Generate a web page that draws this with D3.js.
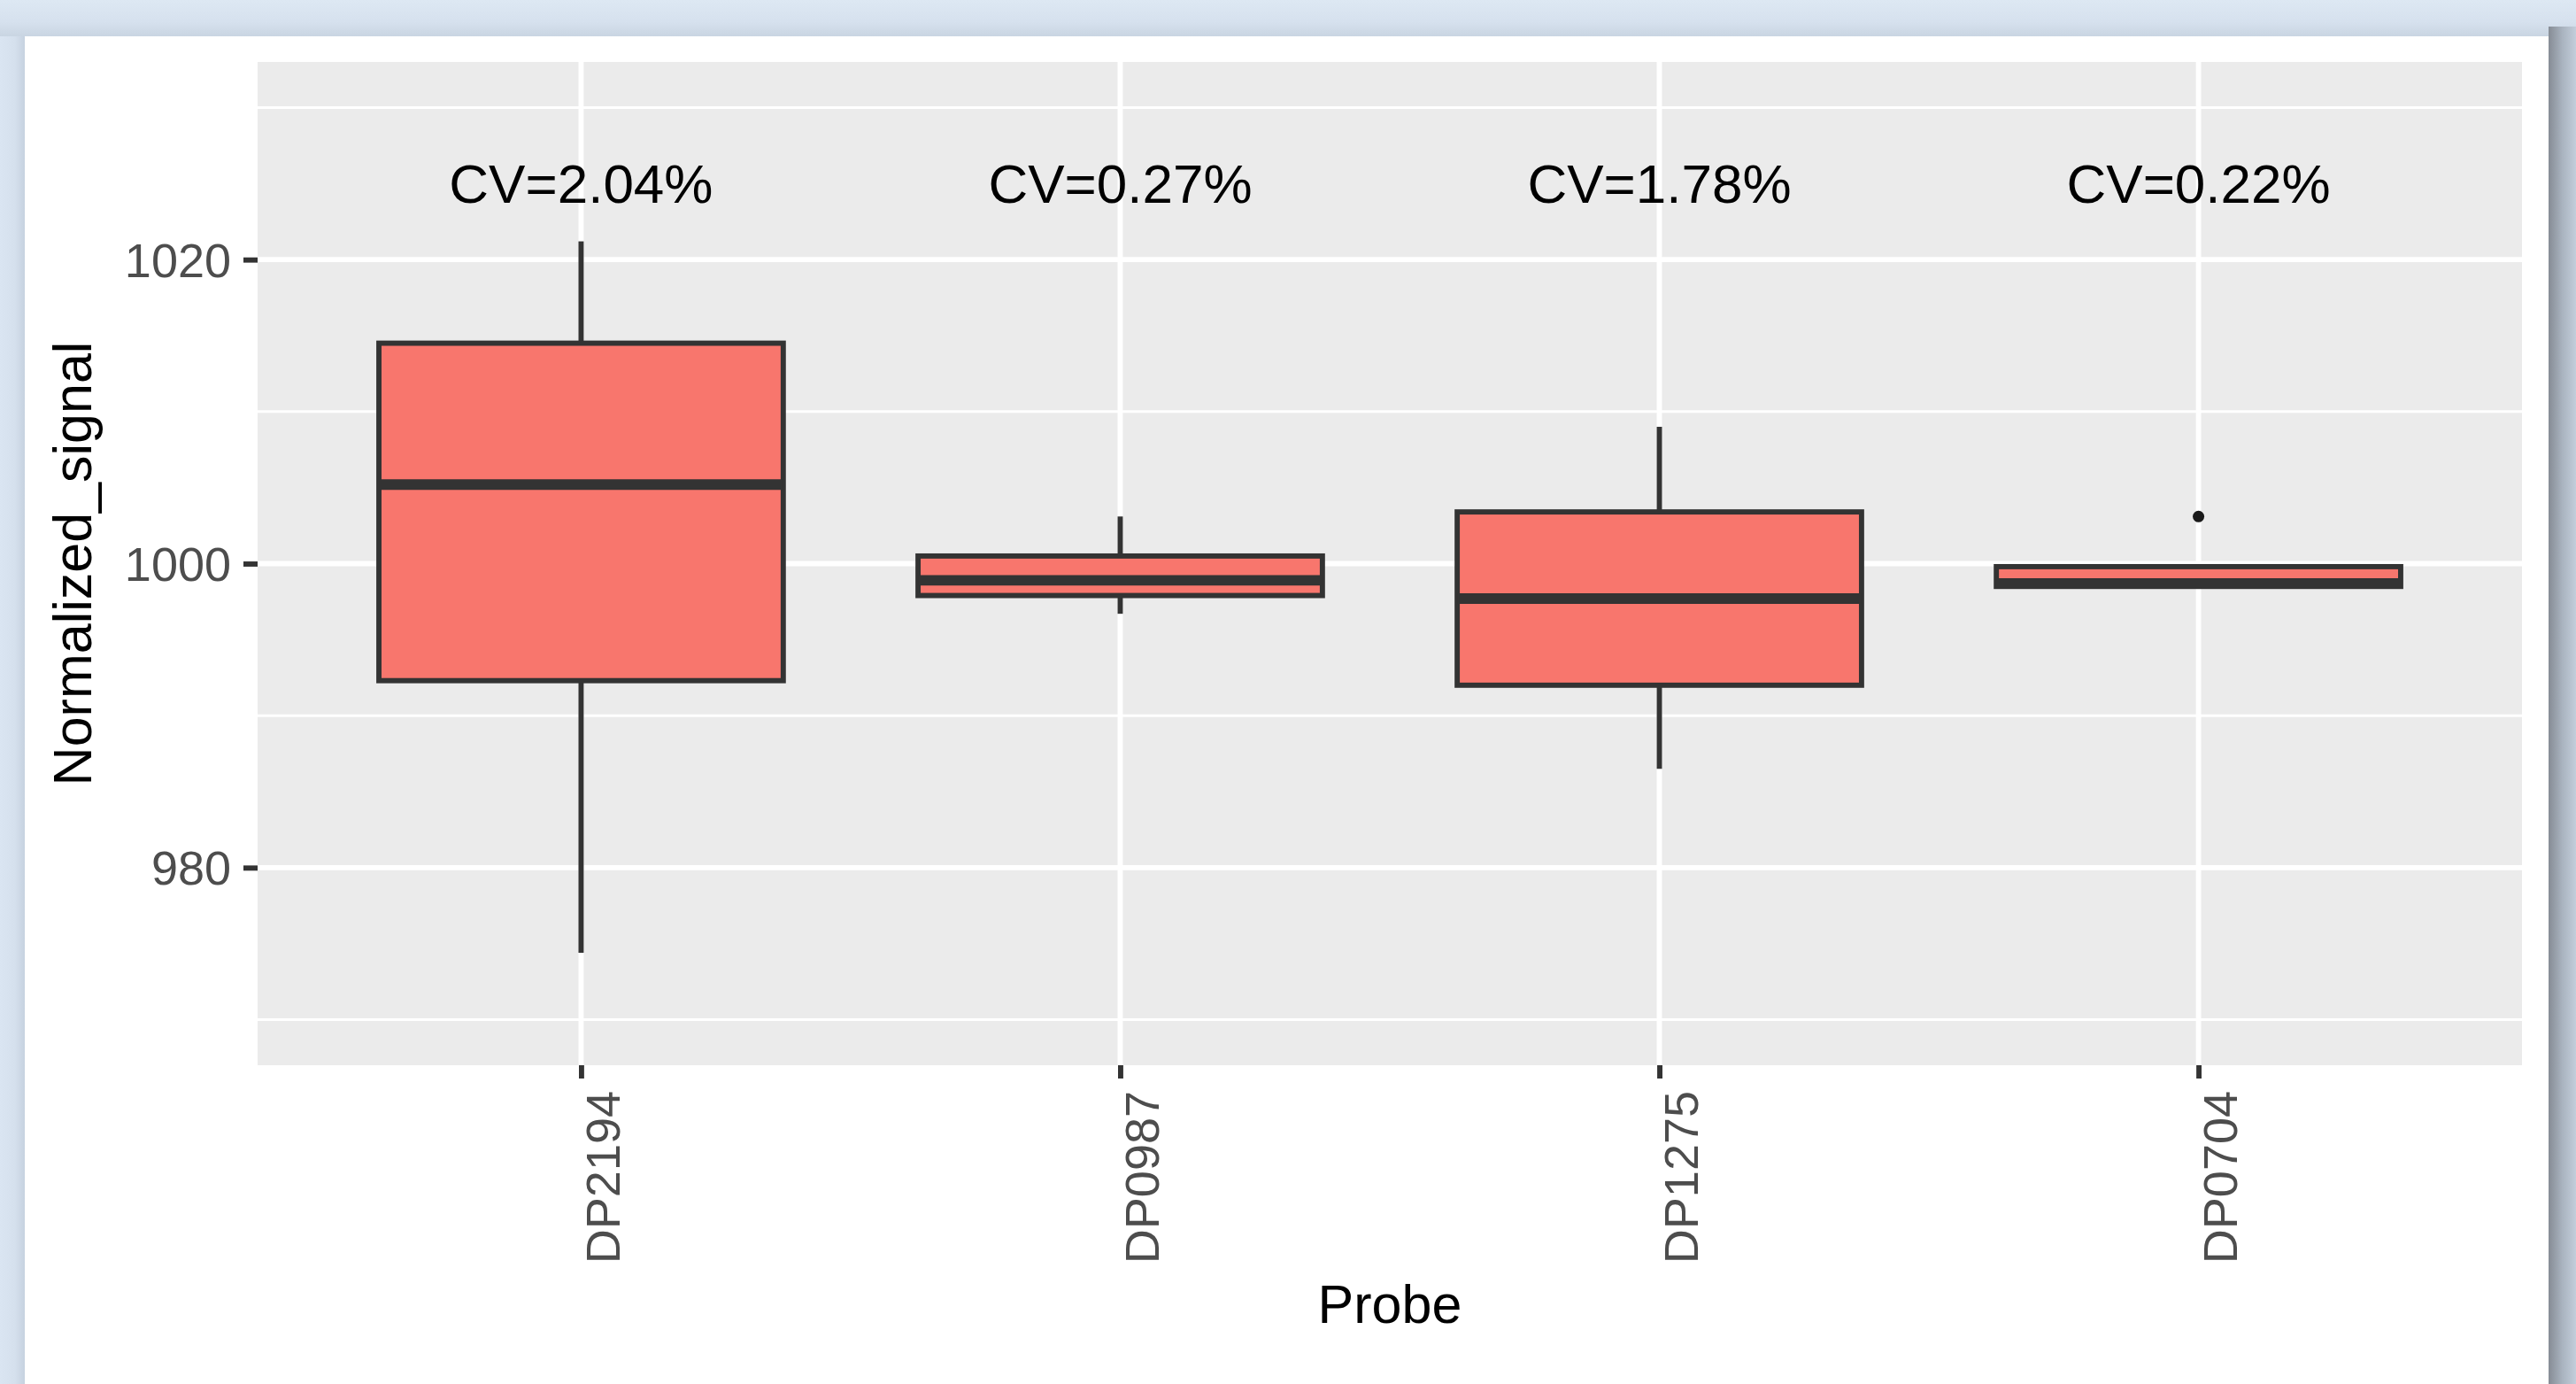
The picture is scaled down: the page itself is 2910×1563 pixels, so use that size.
<!DOCTYPE html>
<html>
<head>
<meta charset="utf-8">
<script src="https://cdn.jsdelivr.net/npm/d3@7"></script>
<style>
  body { margin: 0; background: #dbe6f2; }
  svg { display: block; }
  text { font-family: "Liberation Sans", Arial, sans-serif; }
</style>
</head>
<body>
<div id="chart"></div>
<script>
// values
var probes = ["DP2194", "DP0987", "DP1275", "DP0704"];
var cvLabels = ["CV=2.04%", "CV=0.27%", "CV=1.78%", "CV=0.22%"];
var whiskerLow = [974.4, 996.7, 986.5, 998.4];
var lowerHinge = [992.3, 997.9, 992.0, 998.5];
var medians = [1005.2, 998.9, 997.7, 998.7];
var upperHinge = [1014.5, 1000.5, 1003.4, 999.8];
var whiskerHigh = [1021.2, 1003.1, 1009.0, 999.9];
var outliers = [[], [], [], [1003.1]];
var labelY = 1025;
var yTicks = [980, 1000, 1020];
var yMinorTicks = [970, 990, 1010, 1030];

var width = 2910,
    height = 1563,
    panel = {left: 291, right: 2849, top: 70, bottom: 1203},
    lineW = 5.9;

var svg = d3.select("#chart")
  .append("svg")
  .attr("width", width)
  .attr("height", height);

var defs = svg.append("defs");

function gradient(id, x2, y2, stops) {
  var g = defs.append("linearGradient")
    .attr("id", id)
    .attr("x1", 0).attr("y1", 0)
    .attr("x2", x2).attr("y2", y2);
  stops.forEach(function(s) {
    g.append("stop").attr("offset", s[0]).attr("stop-color", s[1]);
  });
}

gradient("shadowRight", 1, 0, [[0, "#868c95"], [0.5, "#a9b3bf"], [1, "#c3cedb"]]);
gradient("shadowTop", 0, 1, [[0, "#dde8f3"], [0.6, "#d6e1ee"], [1, "#c9d5e2"]]);
gradient("shadowLeft", 1, 0, [[0, "#dae5f2"], [0.6, "#d5e0ed"], [1, "#c6d2e0"]]);

// window background + card shadow
svg.append("rect").attr("width", width).attr("height", height).attr("fill", "#dbe6f2");
svg.append("rect").attr("x", 0).attr("y", 0).attr("width", width).attr("height", 41)
  .attr("fill", "url(#shadowTop)");
svg.append("rect").attr("x", 0).attr("y", 41).attr("width", 28).attr("height", height - 41)
  .attr("fill", "url(#shadowLeft)");
svg.append("rect").attr("x", 2879).attr("y", 30).attr("width", 31).attr("height", height - 30)
  .attr("fill", "url(#shadowRight)");
svg.append("rect").attr("x", 28).attr("y", 41).attr("width", 2851).attr("height", height - 41)
  .attr("fill", "#ffffff");

var x = d3.scalePoint()
  .domain(probes)
  .range([panel.left, panel.right])
  .padding(0.6);

var y = d3.scaleLinear()
  .domain([967, 1033])
  .range([panel.bottom, panel.top]);

var boxW = 0.75 * x.step();

// panel + grid
svg.append("rect")
  .attr("x", panel.left).attr("y", panel.top)
  .attr("width", panel.right - panel.left)
  .attr("height", panel.bottom - panel.top)
  .attr("fill", "#ebebeb");

var grid = svg.append("g").attr("stroke", "#ffffff");

grid.selectAll(null)
  .data(yMinorTicks)
  .enter().append("line")
  .attr("x1", panel.left).attr("x2", panel.right)
  .attr("y1", function(d) { return y(d); })
  .attr("y2", function(d) { return y(d); })
  .attr("stroke-width", lineW / 2);

grid.selectAll(null)
  .data(yTicks)
  .enter().append("line")
  .attr("x1", panel.left).attr("x2", panel.right)
  .attr("y1", function(d) { return y(d); })
  .attr("y2", function(d) { return y(d); })
  .attr("stroke-width", lineW);

grid.selectAll(null)
  .data(probes)
  .enter().append("line")
  .attr("x1", function(d) { return x(d); })
  .attr("x2", function(d) { return x(d); })
  .attr("y1", panel.top).attr("y2", panel.bottom)
  .attr("stroke-width", lineW);

// boxes
var boxes = svg.append("g")
  .selectAll("g")
  .data(probes)
  .enter().append("g");

boxes.append("line")
  .attr("x1", function(d) { return x(d); })
  .attr("x2", function(d) { return x(d); })
  .attr("y1", function(d, i) { return y(whiskerHigh[i]); })
  .attr("y2", function(d, i) { return y(upperHinge[i]); })
  .attr("stroke", "#333333")
  .attr("stroke-width", lineW);

boxes.append("line")
  .attr("x1", function(d) { return x(d); })
  .attr("x2", function(d) { return x(d); })
  .attr("y1", function(d, i) { return y(lowerHinge[i]); })
  .attr("y2", function(d, i) { return y(whiskerLow[i]); })
  .attr("stroke", "#333333")
  .attr("stroke-width", lineW);

boxes.append("rect")
  .attr("x", function(d) { return x(d) - boxW / 2; })
  .attr("width", boxW)
  .attr("y", function(d, i) { return y(upperHinge[i]); })
  .attr("height", function(d, i) { return y(lowerHinge[i]) - y(upperHinge[i]); })
  .attr("fill", "#f8766d")
  .attr("stroke", "#333333")
  .attr("stroke-width", lineW);

boxes.append("line")
  .attr("x1", function(d) { return x(d) - boxW / 2; })
  .attr("x2", function(d) { return x(d) + boxW / 2; })
  .attr("y1", function(d, i) { return y(medians[i]); })
  .attr("y2", function(d, i) { return y(medians[i]); })
  .attr("stroke", "#333333")
  .attr("stroke-width", lineW * 2);

boxes.selectAll("circle")
  .data(function(d, i) { return outliers[i].map(function(v) { return {p: d, v: v}; }); })
  .enter().append("circle")
  .attr("cx", function(o) { return x(o.p); })
  .attr("cy", function(o) { return y(o.v); })
  .attr("r", 6.5)
  .attr("fill", "#1a1a1a");

// CV labels
svg.append("g")
  .selectAll("text")
  .data(probes)
  .enter().append("text")
  .attr("x", function(d) { return x(d); })
  .attr("y", y(labelY))
  .attr("text-anchor", "middle")
  .attr("dominant-baseline", "central")
  .attr("font-size", 62)
  .attr("fill", "#000000")
  .text(function(d, i) { return cvLabels[i]; });

// axes
var yAxis = svg.append("g")
  .attr("transform", "translate(" + panel.left + ",0)")
  .call(d3.axisLeft(y).tickValues(yTicks).tickSize(16).tickPadding(14).tickFormat(d3.format("d")));

var xAxis = svg.append("g")
  .attr("transform", "translate(0," + panel.bottom + ")")
  .call(d3.axisBottom(x).tickSize(15));

[yAxis, xAxis].forEach(function(a) {
  a.select(".domain").remove();
  a.selectAll(".tick line").attr("stroke", "#333333").attr("stroke-width", lineW);
  a.selectAll(".tick text")
    .attr("fill", "#4d4d4d")
    .attr("font-size", 54)
    .attr("font-family", "Liberation Sans, Arial, sans-serif");
});

yAxis.selectAll(".tick text").attr("dy", "0.35em");

xAxis.selectAll(".tick text")
  .attr("text-anchor", "end")
  .attr("dy", null)
  .attr("y", null)
  .attr("transform", "translate(43,29) rotate(-90)");

svg.append("text")
  .attr("x", (panel.left + panel.right) / 2)
  .attr("y", 1494)
  .attr("text-anchor", "middle")
  .attr("font-size", 61)
  .text("Probe");

svg.append("text")
  .attr("transform", "translate(103," + (panel.top + panel.bottom) / 2 + ") rotate(-90)")
  .attr("text-anchor", "middle")
  .attr("font-size", 61)
  .text("Normalized_signal");
</script>
</body>
</html>
